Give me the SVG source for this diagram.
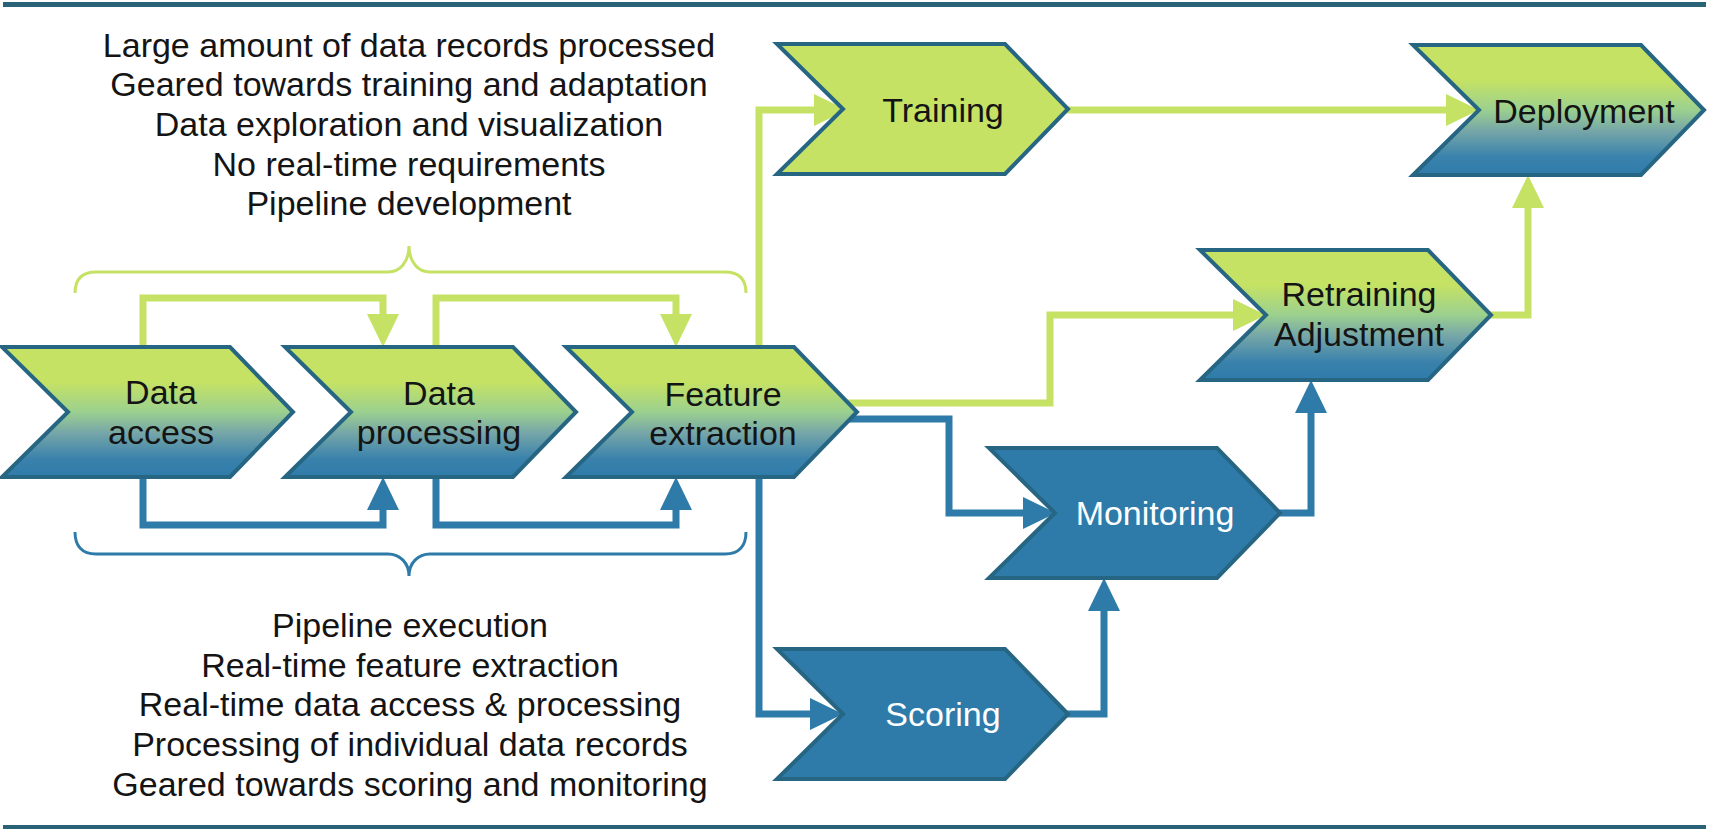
<svg xmlns="http://www.w3.org/2000/svg" width="1709" height="829" viewBox="0 0 1709 829">
<style>
.txt{font-family:"Liberation Sans",Arial,sans-serif;font-size:34px;fill:#141414;text-anchor:middle}
.wt{fill:#ffffff}
.grad{fill:url(#gb);stroke:#276683;stroke-width:4;stroke-linejoin:miter}
.green{fill:#c5e264;stroke:#276683;stroke-width:4}
.blue{fill:#2e7baa;stroke:#276683;stroke-width:4}
.cg{fill:none;stroke:#c5e264;stroke-width:7}
.cb{fill:none;stroke:#2e7baa;stroke-width:7}
.brg{fill:none;stroke:#c5e264;stroke-width:3}
.brb{fill:none;stroke:#2e7baa;stroke-width:3}
</style>
<defs>
<linearGradient id="gb" x1="0" y1="0" x2="0" y2="1">
<stop offset="0" stop-color="#c5e264"/>
<stop offset="0.27" stop-color="#c5e264"/>
<stop offset="0.5" stop-color="#9bd08f"/>
<stop offset="0.66" stop-color="#76a6a8"/>
<stop offset="0.86" stop-color="#3a82ac"/>
<stop offset="1" stop-color="#2e7baa"/>
</linearGradient>
<path id="chev" d="M0,0 H228 L291,65 L228,130 H0 L66,65 Z"/>
<marker id="ag" markerUnits="userSpaceOnUse" markerWidth="34" markerHeight="34" refX="0" refY="16" orient="auto">
<path d="M0,0 L33,16 L0,32 Z" fill="#c5e264"/>
</marker>
<marker id="ab" markerUnits="userSpaceOnUse" markerWidth="34" markerHeight="34" refX="0" refY="16" orient="auto">
<path d="M0,0 L33,16 L0,32 Z" fill="#2e7baa"/>
</marker>
</defs>
<rect x="0" y="0" width="1709" height="829" fill="#ffffff"/>
<rect x="3" y="2" width="1703" height="5" fill="#2a6378"/>
<rect x="3" y="825" width="1703" height="4" fill="#2a6378"/>

<g id="connectors">
<path class="cg" d="M143,349 V298 H383 V314" marker-end="url(#ag)"/>
<path class="cg" d="M436,349 V298 H676 V314" marker-end="url(#ag)"/>
<path class="cg" d="M759,349 V110 H814" marker-end="url(#ag)"/>
<path class="cg" d="M845,403 H1050 V315 H1233" marker-end="url(#ag)"/>
<path class="cg" d="M1065,110 H1446" marker-end="url(#ag)"/>
<path class="cg" d="M1489,315 H1528 V208" marker-end="url(#ag)"/>
<path class="cb" d="M143,475 V525 H383 V510" marker-end="url(#ab)"/>
<path class="cb" d="M436,475 V525 H676 V510" marker-end="url(#ab)"/>
<path class="cb" d="M848,419 H949 V513 H1023" marker-end="url(#ab)"/>
<path class="cb" d="M759,475 V714 H810" marker-end="url(#ab)"/>
<path class="cb" d="M1278,513 H1311 V413" marker-end="url(#ab)"/>
<path class="cb" d="M1065,714 H1104 V611" marker-end="url(#ab)"/>
<path class="brg" d="M75,293 C75,279 82,272 96,272 H388 C400,272 409,262 409,246 C409,262 418,272 430,272 H725 C739,272 746,279 746,293"/>
<path class="brb" d="M75,532 C75,546 82,554 96,554 H388 C400,554 409,563 409,576 C409,563 418,554 430,554 H725 C739,554 746,546 746,532"/>
</g>

<g id="top-text">
<text class="txt" x="409" y="57">Large amount of data records processed</text>
<text class="txt" x="409" y="96">Geared towards training and adaptation</text>
<text class="txt" x="409" y="136">Data exploration and visualization</text>
<text class="txt" x="409" y="176">No real-time requirements</text>
<text class="txt" x="409" y="215">Pipeline development</text>
</g>
<g id="bottom-text">
<text class="txt" x="410" y="637">Pipeline execution</text>
<text class="txt" x="410" y="677">Real-time feature extraction</text>
<text class="txt" x="410" y="716">Real-time data access &amp; processing</text>
<text class="txt" x="410" y="756">Processing of individual data records</text>
<text class="txt" x="410" y="796">Geared towards scoring and monitoring</text>
</g>

<g id="data-access">
<use href="#chev" class="grad" x="2" y="347"/>
<text class="txt" x="161" y="404">Data</text>
<text class="txt" x="161" y="444">access</text>
</g>
<g id="data-processing">
<use href="#chev" class="grad" x="285" y="347"/>
<text class="txt" x="439" y="405">Data</text>
<text class="txt" x="439" y="444">processing</text>
</g>
<g id="feature-extraction">
<use href="#chev" class="grad" x="566" y="347"/>
<text class="txt" x="723" y="406">Feature</text>
<text class="txt" x="723" y="445">extraction</text>
</g>
<g id="training">
<use href="#chev" class="green" x="777" y="44"/>
<text class="txt" x="943" y="122">Training</text>
</g>
<g id="deployment">
<use href="#chev" class="grad" x="1413" y="45"/>
<text class="txt" x="1584" y="123">Deployment</text>
</g>
<g id="retraining">
<use href="#chev" class="grad" x="1200" y="250"/>
<text class="txt" x="1359" y="306">Retraining</text>
<text class="txt" x="1359" y="346">Adjustment</text>
</g>
<g id="monitoring">
<use href="#chev" class="blue" x="989" y="448"/>
<text class="txt wt" x="1155" y="525">Monitoring</text>
</g>
<g id="scoring">
<use href="#chev" class="blue" x="777" y="649"/>
<text class="txt wt" x="943" y="726">Scoring</text>
</g>
</svg>
